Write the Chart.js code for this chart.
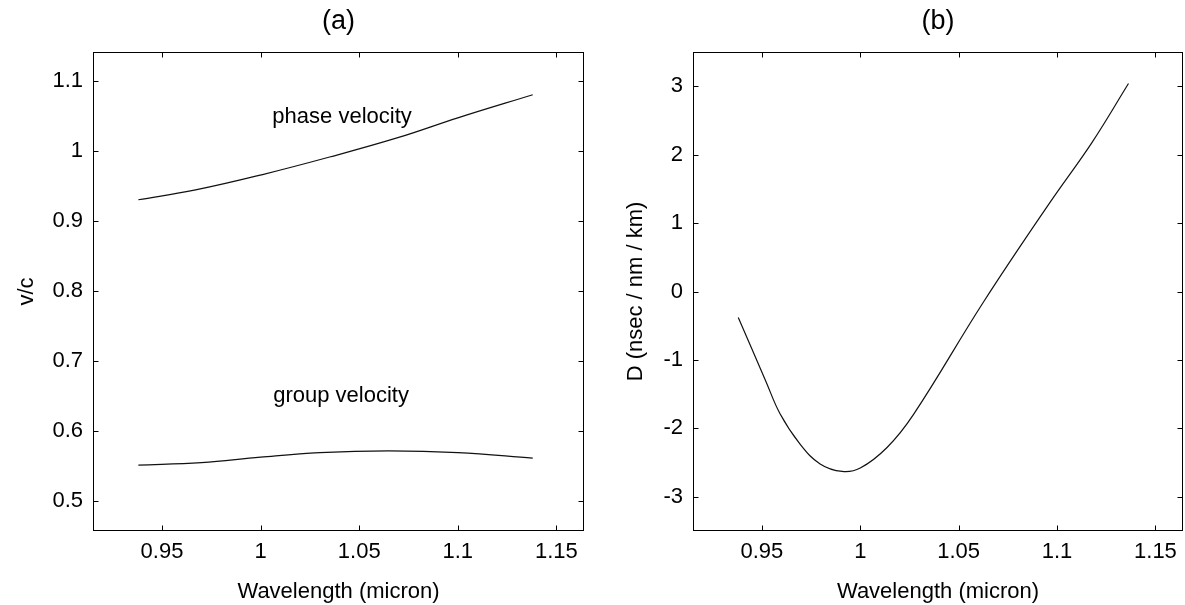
<!DOCTYPE html>
<html>
<head>
<meta charset="utf-8">
<script src="https://cdn.jsdelivr.net/npm/chart.js@4.4.0/dist/chart.umd.min.js"></script>
<style>
  html, body { margin: 0; padding: 0; background: #fff; }
  #wrap { position: relative; width: 1185px; height: 605px; }
  canvas { position: absolute; top: 0; }
  #chartA { left: 0; }
  #chartB { left: 600px; }
</style>
</head>
<body>
<div id="wrap">
  <canvas id="chartA" width="600" height="605"></canvas>
  <canvas id="chartB" width="585" height="605"></canvas>
</div>
<script>
// values
const xTicks = [0.95, 1, 1.05, 1.1, 1.15];
const vTicks = [0.5, 0.6, 0.7, 0.8, 0.9, 1, 1.1];
const dTicks = [-3, -2, -1, 0, 1, 2, 3];

const phaseLambda = [0.938, 0.967, 1.001, 1.035, 1.07, 1.1, 1.138];
const phaseVelocity = [0.930, 0.944, 0.966, 0.991, 1.019, 1.047, 1.080];

const groupLambda = [0.938, 0.97, 1.0, 1.03, 1.065, 1.1, 1.138];
const groupVelocity = [0.551, 0.5545, 0.5625, 0.569, 0.5715, 0.569, 0.561];

const dispLambda = [0.938, 0.952, 0.9593, 0.9694, 0.9796, 0.9908, 1.0, 1.0136, 1.027, 1.0627, 1.0966, 1.1178, 1.1363];
const dispersionD = [-0.38, -1.31, -1.79, -2.23, -2.52, -2.63, -2.58, -2.28, -1.80, -0.15, 1.31, 2.18, 3.04];

const FONT = 'Liberation Sans, Arial, Helvetica, sans-serif';

const toPoints = (xs, ys) => xs.map((x, i) => ({ x: x, y: ys[i] }));

// box round the plot, inward ticks on all four sides, panel title and curve notes
const framePlugin = {
  id: 'frame',
  afterDraw(chart, args, opts) {
    const { ctx, chartArea: a, scales } = chart;
    const L = Math.round(a.left) + 0.5, R = Math.round(a.right) - 0.5;
    const T = Math.round(a.top) + 0.5, B = Math.round(a.bottom) - 0.5;
    ctx.save();
    ctx.strokeStyle = '#000';
    ctx.lineWidth = 1;
    ctx.strokeRect(L, T, R - L, B - T);
    ctx.beginPath();
    scales.x.ticks.forEach(t => {
      const px = Math.round(scales.x.getPixelForValue(t.value)) + 0.5;
      ctx.moveTo(px, B); ctx.lineTo(px, B - 5);
      ctx.moveTo(px, T); ctx.lineTo(px, T + 5);
    });
    scales.y.ticks.forEach(t => {
      const py = Math.round(scales.y.getPixelForValue(t.value)) + 0.5;
      ctx.moveTo(L, py); ctx.lineTo(L + 5, py);
      ctx.moveTo(R, py); ctx.lineTo(R - 5, py);
    });
    ctx.stroke();

    ctx.fillStyle = '#000';
    ctx.textAlign = 'center';
    ctx.textBaseline = 'middle';
    ctx.font = '27px ' + FONT;
    ctx.fillText(opts.title, (a.left + a.right) / 2, 22);
    ctx.font = '22px ' + FONT;
    (opts.notes || []).forEach(n => {
      ctx.fillText(n.text, scales.x.getPixelForValue(n.x), scales.y.getPixelForValue(n.y));
    });
    ctx.restore();
  }
};

function lineSet(points) {
  return {
    data: points,
    showLine: true,
    borderColor: '#111',
    borderWidth: 1.2,
    pointRadius: 0,
    tension: 0.4,
    fill: false,
  };
}

function panelOptions(cfg) {
  return {
    responsive: false,
    animation: false,
    layout: { padding: { left: 0, top: 52, right: cfg.padRight, bottom: 0 } },
    plugins: {
      legend: { display: false },
      tooltip: { enabled: false },
      frame: { title: cfg.title, notes: cfg.notes },
    },
    scales: {
      x: {
        type: 'linear',
        min: 0.915,
        max: 1.164,
        afterBuildTicks: s => { s.ticks = xTicks.map(v => ({ value: v })); },
        afterFit: s => { s.height = 74; },
        grid: { display: false, drawTicks: false },
        border: { display: false },
        ticks: { color: '#000', padding: 8, font: { family: FONT, size: 22 }, callback: v => String(v) },
        title: { display: true, text: 'Wavelength (micron)', color: '#000', padding: { top: 0, bottom: 0 }, font: { family: FONT, size: 22 } },
      },
      y: {
        type: 'linear',
        min: cfg.yMin,
        max: cfg.yMax,
        afterBuildTicks: s => { s.ticks = cfg.yTicks.map(v => ({ value: v })); },
        afterFit: s => { s.width = 93; },
        grid: { display: false, drawTicks: false },
        border: { display: false },
        ticks: { color: '#000', padding: 10, font: { family: FONT, size: 22 }, callback: v => String(v) },
        title: { display: true, text: cfg.yTitle, color: '#000', padding: { top: cfg.yTitlePad, bottom: 0 }, font: { family: FONT, size: 22 } },
      },
    },
  };
}

new Chart(document.getElementById('chartA'), {
  type: 'scatter',
  data: {
    datasets: [
      lineSet(toPoints(phaseLambda, phaseVelocity)),
      lineSet(toPoints(groupLambda, groupVelocity)),
    ],
  },
  options: panelOptions({
    title: '(a)',
    padRight: 16,
    yMin: 0.457,
    yMax: 1.141,
    yTicks: vTicks,
    yTitle: 'v/c',
    yTitlePad: 14,
    notes: [
      { text: 'phase velocity', x: 1.0413, y: 1.0486 },
      { text: 'group velocity', x: 1.0408, y: 0.65 },
    ],
  }),
  plugins: [framePlugin],
});

new Chart(document.getElementById('chartB'), {
  type: 'scatter',
  data: {
    datasets: [lineSet(toPoints(dispLambda, dispersionD))],
  },
  options: panelOptions({
    title: '(b)',
    padRight: 2,
    yMin: -3.5,
    yMax: 3.5,
    yTicks: dTicks,
    yTitle: 'D (nsec / nm / km)',
    yTitlePad: 23,
    notes: [],
  }),
  plugins: [framePlugin],
});
</script>
</body>
</html>
